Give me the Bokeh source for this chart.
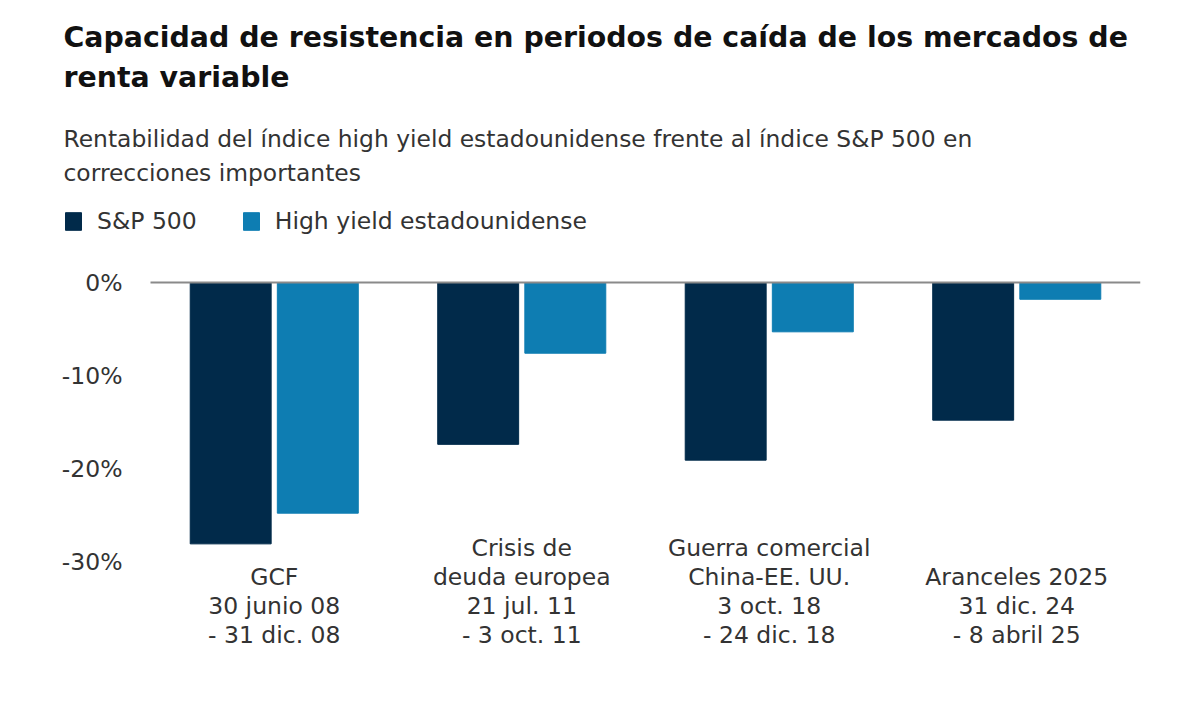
from bokeh.plotting import figure
from bokeh.models import (Title, Legend, LegendItem, Range1d,
                          FixedTicker, PrintfTickFormatter, ColumnDataSource)
from bokeh.transform import dodge
from bokeh.core.properties import value
from bokeh.embed import file_html
from bokeh.resources import INLINE

# ---- data ----
categories = ["GCF", "Crisis de deuda europea", "Guerra comercial China-EE. UU.", "Aranceles 2025"]
category_labels = [
    "GCF\n30 junio 08\n- 31 dic. 08",
    "Crisis de\ndeuda europea\n21 jul. 11\n- 3 oct. 11",
    "Guerra comercial\nChina-EE. UU.\n3 oct. 18\n- 24 dic. 18",
    "Aranceles 2025\n31 dic. 24\n- 8 abril 25",
]
sp500 = [-28.1, -17.4, -19.1, -14.8]
high_yield = [-24.8, -7.6, -5.3, -1.8]
y_ticks = [0, -10, -20, -30]

title_lines = ["Capacidad de resistencia en periodos de caída de los mercados de",
               "renta variable"]
subtitle_lines = ["Rentabilidad del índice high yield estadounidense frente al índice S&P 500 en",
                  "correcciones importantes"]
series_names = ["S&P 500", "High yield estadounidense"]

NAVY = "#012A4A"
BLUE = "#0E7DB2"
TEXT = "#333333"
FONT = "DejaVu Sans"

n = len(categories)
xpos = [i + 0.5 for i in range(n)]   # category slots on a numeric scale
src = ColumnDataSource(dict(x=xpos, cat=categories, sp=sp500, hy=high_yield, lab=category_labels))

p = figure(x_range=Range1d(-0.3515, n), y_range=Range1d(-41.5, 8.82),
           width=1184, height=690, output_backend="svg", toolbar_location=None,
           min_border_left=63, min_border_right=44, min_border_bottom=22, min_border_top=200)

r_sp = p.vbar(x=dodge("x", -0.176), top="sp", bottom=0, width=0.327,
              source=src, fill_color=NAVY, line_color=NAVY)
r_hy = p.vbar(x=dodge("x", 0.176), top="hy", bottom=0, width=0.327,
              source=src, fill_color=BLUE, line_color=BLUE)

# zero line across the category area
p.segment(x0=[0], x1=[n], y0=[0], y1=[0], line_color="#8a8a8a", line_width=2)

p.text(x="x", y=-39.4, text="lab", source=src, text_align="center", text_baseline="bottom",
       text_font=value(FONT), text_font_size="23.5px", text_color=TEXT, text_line_height=1.04)

p.xaxis.visible = False
p.xgrid.visible = False
p.ygrid.visible = False
p.outline_line_color = None

ax = p.yaxis[0]
ax.ticker = FixedTicker(ticks=y_ticks)
ax.formatter = PrintfTickFormatter(format="%d%%")
ax.axis_line_color = None
ax.major_tick_line_color = None
ax.minor_tick_line_color = None
ax.major_label_text_font = FONT
ax.major_label_text_font_size = "23.5px"
ax.major_label_text_color = TEXT
ax.major_label_standoff = -65

legend = Legend(items=[LegendItem(label=series_names[0], renderers=[r_sp]),
                       LegendItem(label=series_names[1], renderers=[r_hy])],
                orientation="horizontal", location=(0, 433),
                glyph_width=20, glyph_height=22, label_standoff=14, spacing=44,
                label_text_font=FONT, label_text_font_size="23.5px", label_text_color=TEXT,
                label_height=22, padding=0, margin=0,
                border_line_color=None, background_fill_alpha=0)
p.add_layout(legend)

# titles: added from closest-to-plot outward
p.add_layout(Title(text="\n".join(subtitle_lines), align="left", standoff=27,
                   text_font=FONT, text_font_size="23.4px", text_font_style="normal",
                   text_color=TEXT, text_line_height=1.2), "above")
p.add_layout(Title(text="\n".join(title_lines), align="left", standoff=31,
                   text_font=FONT, text_font_size="28.4px", text_font_style="bold",
                   text_color="#111111", text_line_height=1.22), "above")

open("out.html", "w").write(file_html(p, INLINE))
